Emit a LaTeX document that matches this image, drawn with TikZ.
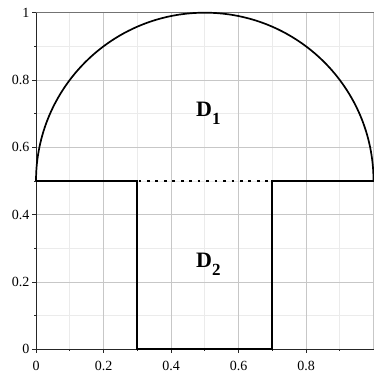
\documentclass[tikz,border=0pt]{standalone}
\usepackage{fontspec}
\setmainfont{Liberation Serif}

\begin{document}
\begin{tikzpicture}[
  x=337.5pt, y=336.6pt,
  font=\fontsize{14}{15}\selectfont,
  minorgrid/.style={draw=black!8, line width=0.6pt},
  majorgrid/.style={draw=black!22, line width=0.6pt},
  axisline/.style={draw=black!85, line width=0.8pt},
  boundary/.style={draw=black, line width=1.7pt},
  cutline/.style={draw=black, line width=2.7pt, dash pattern=on 2.7pt off 5.76pt, dash phase=7.22pt},
  ticklabel/.style={inner sep=0pt},
  region/.style={font=\fontsize{22}{24}\selectfont\bfseries, inner sep=0pt, anchor=base west}
]
\useasboundingbox (-0.1067,-0.0734) rectangle (0.9985,1.0377);

% grid
\foreach \t in {0.1,0.3,...,0.9}
{
  \draw[minorgrid] (\t,0) -- (\t,1);
  \draw[minorgrid] (0,\t) -- (1,\t);
}
\foreach \t in {0.2,0.4,...,1.0}
{
  \draw[majorgrid] (\t,0) -- (\t,1);
  \draw[majorgrid] (0,\t) -- (1,\t);
}
\draw[draw=black!55, line width=0.8pt] (0,1) -- (1,1);

% axes and ticks
\draw[axisline] (0,0) -- (1,0);
\draw[axisline] (0,0) -- (0,1);
\foreach \t in {0.1,0.3,...,0.9}
{
  \draw[axisline] (\t,0) -- ++(0,-2pt);
  \draw[axisline] (0,\t) -- ++(-2pt,0);
}
\foreach \t/\lab in {0/0,0.2/0.2,0.4/0.4,0.6/0.6,0.8/0.8}
{
  \draw[axisline] (\t,0) -- ++(0,-4pt);
  \node[ticklabel] (xl\lab) at (\t,-0.05) {\lab};
}
\foreach \t/\lab in {0/0,0.2/0.2,0.4/0.4,0.6/0.6,0.8/0.8,1/1}
{
  \draw[axisline] (0,\t) -- ++(-4pt,0);
  \node[ticklabel, anchor=east] (yl\lab) at (-0.019,\t) {\lab};
}

% domain
\coordinate (pA) at (0,0.5);
\coordinate (pB) at (0.3,0.5);
\coordinate (pC) at (0.3,0);
\coordinate (pD) at (0.7,0);
\coordinate (pE) at (0.7,0.5);
\coordinate (pF) at (1,0.5);
\draw[boundary] (pA) arc[start angle=180, end angle=0, radius=0.5];
\draw[boundary, line join=miter] (pA) -- (pB) -- (pC) -- (pD) -- (pE) -- (pF);
\draw[cutline] (pB) -- (pE);

\node[region] (d1) at (0.474,0.691) {D\raisebox{-8pt}{\fontsize{17}{17}\selectfont 1}};
\node[region] (d2) at (0.474,0.2436) {D\raisebox{-8pt}{\fontsize{17}{17}\selectfont 2}};
\end{tikzpicture}
\end{document}
